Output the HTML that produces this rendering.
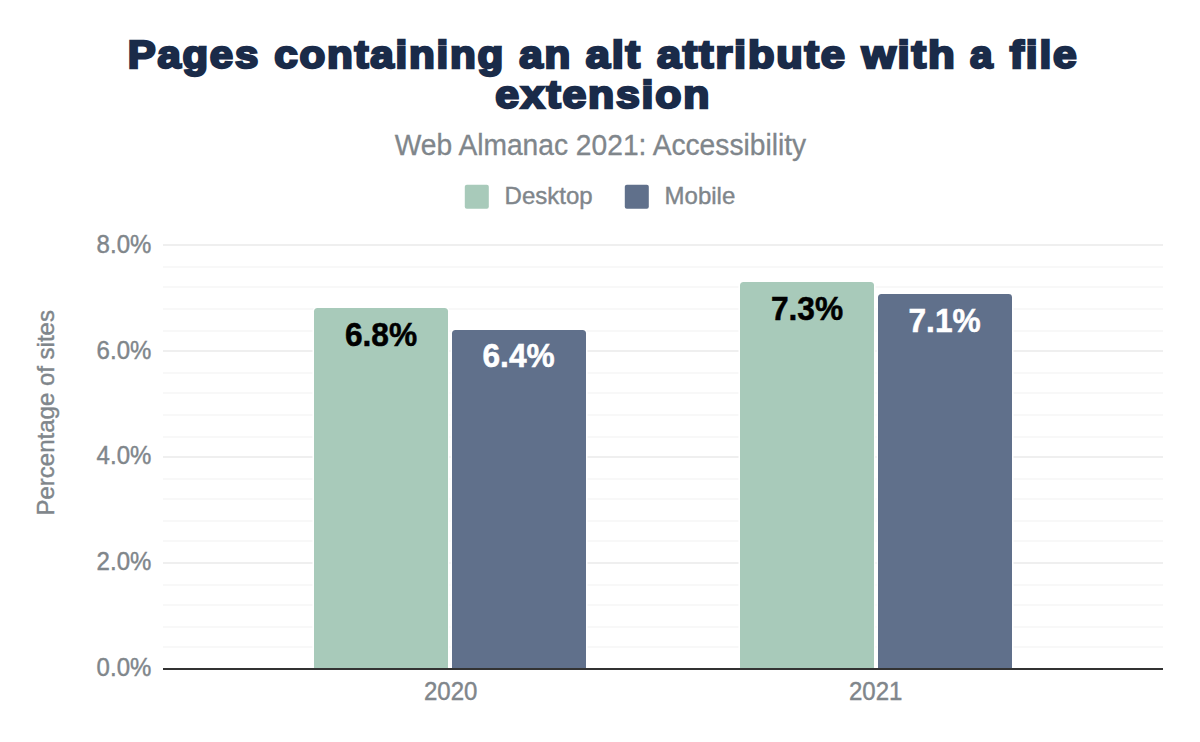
<!DOCTYPE html>
<html lang="en">
<head>
<meta charset="utf-8">
<title>Pages containing an alt attribute with a file extension</title>
<style>
  html, body { margin: 0; padding: 0; background: #ffffff; }
  body { width: 1200px; height: 742px; overflow: hidden; }
  svg { display: block; }
  text { font-family: "Liberation Sans", Arial, sans-serif; }
  .title { font-weight: bold; font-size: 38px; fill: #1a2b49; stroke: #1a2b49; stroke-width: 2.4px; stroke-linejoin: miter; stroke-miterlimit: 3; letter-spacing: 1.6px; }
  .subtitle { font-size: 28px; fill: #80868b; stroke: #80868b; stroke-width: 0.3px; }
  .axis { font-size: 24px; fill: #80868b; stroke: #80868b; stroke-width: 0.4px; }
  .lbl { font-size: 32px; font-weight: bold; stroke-width: 0.5px; text-anchor: middle; }
  .lbl.k { fill: #000000; stroke: #000000; }
  .lbl.w { fill: #ffffff; stroke: #ffffff; }
</style>
</head>
<body>
<svg width="1200" height="742" viewBox="0 0 1200 742">
  <rect x="0" y="0" width="1200" height="742" fill="#ffffff"/>

  <!-- Title -->
  <g class="title">
    <text transform="translate(127.82 67.8) scale(1.1015 1)">Pages</text>
    <text transform="translate(274.22 67.8) scale(1.1102 1)">containing</text>
    <text transform="translate(519.20 67.8) scale(1.1106 1)">an</text>
    <text transform="translate(585.70 67.8) scale(1.1440 1)">alt</text>
    <text transform="translate(656.90 67.8) scale(1.1417 1)">attribute</text>
    <text transform="translate(861.73 67.8) scale(1.1519 1)">with</text>
    <text transform="translate(970.00 67.8) scale(1.0667 1)">a</text>
    <text transform="translate(1009.86 67.8) scale(1.1187 1)">file</text>
    <text transform="translate(495.22 107.8) scale(1.1258 1)">extension</text>
  </g>

  <!-- Subtitle -->
  <text class="subtitle" transform="translate(600.4 155.3) scale(1.007 1.03)" text-anchor="middle">Web Almanac 2021: Accessibility</text>

  <!-- Legend -->
  <rect x="464.8" y="184.8" width="24" height="24" rx="2" ry="2" fill="#a8caba"/>
  <text class="axis" transform="translate(504.6 204)">Desktop</text>
  <rect x="624.8" y="184.8" width="24" height="24" rx="2" ry="2" fill="#60708b"/>
  <text class="axis" transform="translate(664.6 204)">Mobile</text>

  <!-- Gridlines -->
  <g fill="#f8f8f8">
    <rect x="163" y="266" width="1000" height="2"/>
    <rect x="163" y="286" width="1000" height="2"/>
    <rect x="163" y="308" width="1000" height="2"/>
    <rect x="163" y="330" width="1000" height="2"/>
    <rect x="163" y="372" width="1000" height="2"/>
    <rect x="163" y="392" width="1000" height="2"/>
    <rect x="163" y="414" width="1000" height="2"/>
    <rect x="163" y="436" width="1000" height="2"/>
    <rect x="163" y="478" width="1000" height="2"/>
    <rect x="163" y="498" width="1000" height="2"/>
    <rect x="163" y="520" width="1000" height="2"/>
    <rect x="163" y="540" width="1000" height="2"/>
    <rect x="163" y="584" width="1000" height="2"/>
    <rect x="163" y="604" width="1000" height="2"/>
    <rect x="163" y="626" width="1000" height="2"/>
    <rect x="163" y="646" width="1000" height="2"/>
  </g>
  <g fill="#efefef">
    <rect x="163" y="244" width="1000" height="2"/>
    <rect x="163" y="350" width="1000" height="2"/>
    <rect x="163" y="456" width="1000" height="2"/>
    <rect x="163" y="562" width="1000" height="2"/>
  </g>

  <!-- Bars -->
  <g stroke="#ffffff" stroke-width="3" paint-order="stroke">
  <path d="M314 669 V311.5 a3.5 3.5 0 0 1 3.5 -3.5 H444.5 a3.5 3.5 0 0 1 3.5 3.5 V669 Z" fill="#a8caba"/>
  <path d="M452 669 V333.5 a3.5 3.5 0 0 1 3.5 -3.5 H582.5 a3.5 3.5 0 0 1 3.5 3.5 V669 Z" fill="#60708b"/>
  <path d="M740 669 V285.5 a3.5 3.5 0 0 1 3.5 -3.5 H870.5 a3.5 3.5 0 0 1 3.5 3.5 V669 Z" fill="#a8caba"/>
  <path d="M878 669 V297.5 a3.5 3.5 0 0 1 3.5 -3.5 H1008.5 a3.5 3.5 0 0 1 3.5 3.5 V669 Z" fill="#60708b"/>
  </g>

  <!-- Axis baseline -->
  <rect x="163" y="668" width="1000" height="2" fill="#333333"/>

  <!-- Data labels -->
  <text class="lbl k" transform="translate(381 346.2) scale(0.99 1.045)">6.8%</text>
  <text class="lbl w" transform="translate(518.6 367.0) scale(0.99 1.045)">6.4%</text>
  <text class="lbl k" transform="translate(807 319.9) scale(0.99 1.045)">7.3%</text>
  <text class="lbl w" transform="translate(944.6 332.0) scale(0.99 1.045)">7.1%</text>

  <!-- Y axis labels -->
  <g class="axis" text-anchor="end">
    <text transform="translate(151.3 253.0) scale(1 1.04)">8.0%</text>
    <text transform="translate(151.3 359.0) scale(1 1.04)">6.0%</text>
    <text transform="translate(151.3 464.2) scale(1 1.04)">4.0%</text>
    <text transform="translate(151.3 570.2) scale(1 1.04)">2.0%</text>
    <text transform="translate(151.3 676.2) scale(1 1.04)">0.0%</text>
  </g>

  <!-- X axis labels -->
  <g class="axis" text-anchor="middle">
    <text transform="translate(450.7 700.2) scale(1 1.04)">2020</text>
    <text transform="translate(875.7 700.2) scale(1 1.04)">2021</text>
  </g>

  <!-- Y axis title -->
  <text class="axis" text-anchor="middle" transform="translate(54.3 412.8) rotate(-90)">Percentage of sites</text>
</svg>
</body>
</html>
